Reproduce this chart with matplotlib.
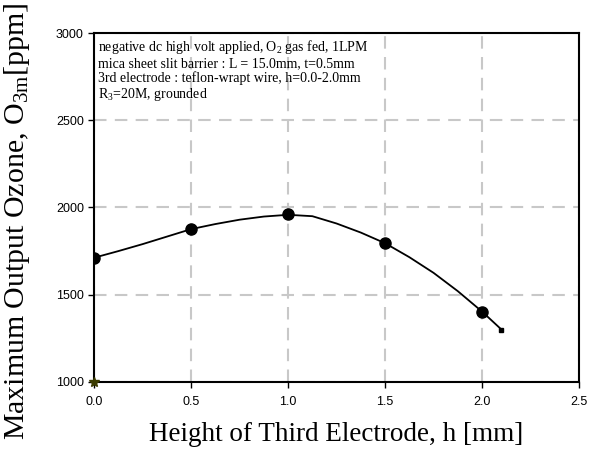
import matplotlib.pyplot as plt

plt.rcParams['mathtext.fontset'] = 'custom'
plt.rcParams['mathtext.rm'] = 'Liberation Serif'
plt.rcParams['mathtext.it'] = 'Liberation Serif:italic'

# measured points
h_pts = [0.0, 0.5, 1.0, 1.5, 2.0]
o3_pts = [1712, 1876, 1960, 1795, 1403]

# trend curve
h_curve = [0.0, 0.125, 0.25, 0.375, 0.5, 0.625, 0.75, 0.875, 1.0, 1.125,
           1.25, 1.375, 1.5, 1.625, 1.75, 1.875, 2.0, 2.1]
o3_curve = [1712, 1750, 1790, 1833, 1876, 1905, 1930, 1948, 1958, 1950,
            1908, 1856, 1795, 1715, 1625, 1520, 1403, 1300]

# stray marker at origin
h_star = [0.0]
o3_star = [1000]

note = ("negative dc high volt applied, O$_2$ gas fed, 1LPM\n"
        "mica sheet slit barrier : L = 15.0mm, t=0.5mm\n"
        "3rd electrode : teflon-wrapt wire, h=0.0-2.0mm\n"
        "R$_3$=20M, grounded")

fig = plt.figure(figsize=(5.89, 4.54), dpi=100)
ax = fig.add_axes([0.16, 0.159, 0.823, 0.768])

ax.plot(h_curve, o3_curve, color='black', lw=1.3)
ax.plot(h_curve[-1:], o3_curve[-1:], 's', color='black', ms=3)
ax.plot(h_pts, o3_pts, 'o', color='black', ms=8)
ax.plot(h_star, o3_star, '*', color='#3b3b00', ms=7, clip_on=False, zorder=5)

ax.set_xlim(0, 2.5)
ax.set_ylim(1000, 3000)
ax.set_xticks([0.0, 0.5, 1.0, 1.5, 2.0, 2.5])
ax.set_xticklabels(['0.0', '0.5', '1.0', '1.5', '2.0', '2.5'])
ax.set_yticks([1000, 1500, 2000, 2500, 3000])
ax.tick_params(labelsize=9, length=4, width=1, direction='out')
ax.tick_params(axis='x', pad=6)
for lab in ax.get_xticklabels() + ax.get_yticklabels():
    lab.set_family('Liberation Sans')

ax.grid(True, color='#c8c8c8', ls=(0, (6, 4)), lw=1.5)
ax.set_axisbelow(True)
for s in ax.spines.values():
    s.set_linewidth(1.5)

ax.set_xlabel('Height of Third Electrode, h [mm]', family='Liberation Serif',
              fontsize=19.5, labelpad=10)
ax.set_ylabel(r'Maximum Output Ozone, O$_{\mathrm{3m}}$[ppm]', family='Liberation Serif',
              fontsize=21.5)
ax.yaxis.set_label_coords(-0.128, 0.46)

ax.text(0.008, 0.985, note, transform=ax.transAxes, va='top', ha='left',
        family='Liberation Serif', fontsize=10, linespacing=1.08)

fig.savefig('out.png', dpi=100)
